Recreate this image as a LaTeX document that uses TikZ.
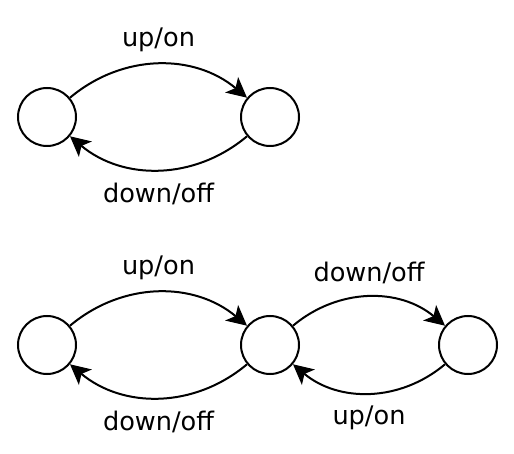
\documentclass[tikz,border=0pt]{standalone}
\usepackage{fontspec}
\setmainfont{DejaVu Sans}
\usetikzlibrary{arrows.meta}
\begin{document}
\begin{tikzpicture}[x=0.5pt,y=-0.5pt,
  state/.style={circle,draw,line width=1pt,minimum size=29pt,inner sep=0pt},
  trans/.style={line width=1pt,-{Stealth[length=10pt,width=10pt,inset=2.5pt]}},
  lbl/.style={font=\fontsize{12.8}{14}\selectfont,inner sep=0pt}]
\useasboundingbox (0,0) rectangle (514,454);
\node[state] (a1) at (47,117) {};
\node[state] (a2) at (270,117) {};
\node[state] (b1) at (47,345) {};
\node[state] (b2) at (270,345) {};
\node[state] (b3) at (468,345) {};
\draw[trans] (a1) to[bend left=40] node[lbl,above=6pt] (la1) {up/on} (a2);
\draw[trans] (a2) to[bend left=40] node[lbl,below=6pt] (la2) {down/off} (a1);
\draw[trans] (b1) to[bend left=40] node[lbl,above=6pt] (lb1) {up/on} (b2);
\draw[trans] (b2) to[bend left=40] node[lbl,below=6pt] (lb2) {down/off} (b1);
\draw[trans] (b2) to[bend left=40] node[lbl,above=6pt] (lb3) {down/off} (b3);
\draw[trans] (b3) to[bend left=40] node[lbl,below=6pt] (lb4) {up/on} (b2);
\end{tikzpicture}
\end{document}
